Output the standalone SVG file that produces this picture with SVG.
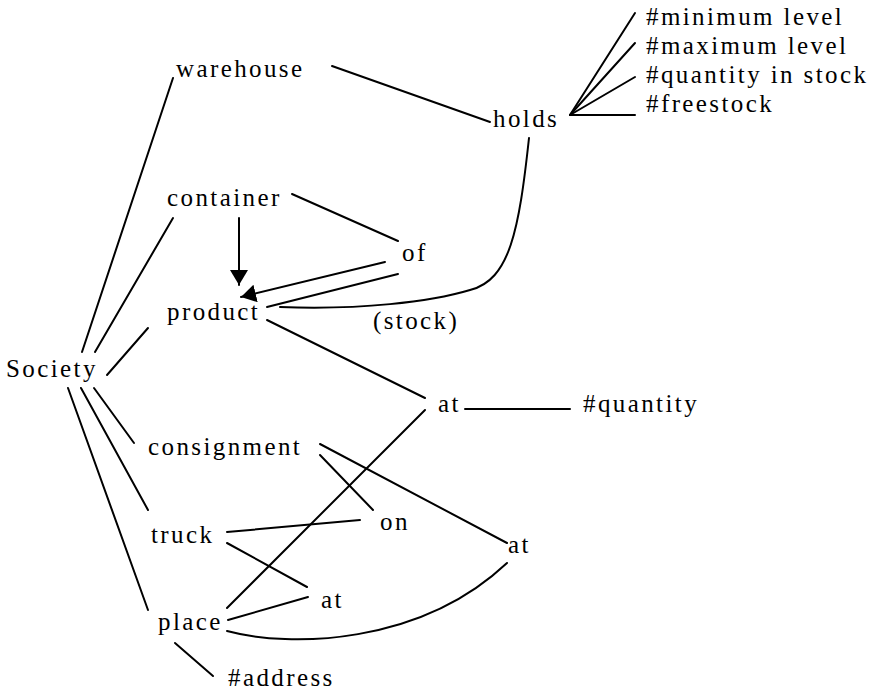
<svg xmlns="http://www.w3.org/2000/svg" width="874" height="692" viewBox="0 0 874 692">
<style>
  text { font-family: 'Liberation Serif', 'DejaVu Serif', 'Times New Roman', serif; font-size: 25px; letter-spacing: 2.4px; fill: #000; }
  .c line, .c path { stroke: #000; stroke-width: 2; fill: none; stroke-linecap: round; }
</style>
<defs>
  <marker id="arr" markerUnits="userSpaceOnUse" markerWidth="16" markerHeight="18" refX="15" refY="9" orient="auto">
    <path d="M0,0 L15,9 L0,18 z" fill="#000"/>
  </marker>
</defs>
<rect width="874" height="692" fill="#fff"/>
<g class="c" id="connectors">
  <line x1="82" y1="352" x2="173" y2="78"/>
  <line x1="95" y1="352" x2="173" y2="218"/>
  <line x1="107" y1="375" x2="148" y2="328"/>
  <line x1="94" y1="388" x2="134" y2="443"/>
  <line x1="81" y1="388" x2="148" y2="510"/>
  <line x1="68" y1="388" x2="148" y2="610"/>
  <line x1="332" y1="66" x2="490" y2="122"/>
  <line x1="570" y1="115" x2="635" y2="13"/>
  <line x1="570" y1="115" x2="635" y2="43"/>
  <line x1="570" y1="115" x2="635" y2="77"/>
  <line x1="570" y1="115" x2="635" y2="115"/>
  <line x1="292" y1="194" x2="398" y2="241"/>
  <line x1="239" y1="218" x2="239" y2="285" marker-end="url(#arr)"/>
  <line x1="385" y1="262" x2="241" y2="297" marker-end="url(#arr)"/>
  <line x1="398" y1="274" x2="267" y2="307"/>
  <path d="M529,138 C519,230 510,280 470,290 C430,302 360,310 280,307"/>
  <line x1="267" y1="320" x2="425" y2="398"/>
  <line x1="465" y1="409" x2="570" y2="409"/>
  <line x1="425" y1="410" x2="227" y2="608"/>
  <line x1="320" y1="455" x2="373" y2="510"/>
  <line x1="320" y1="444" x2="507" y2="543"/>
  <line x1="227" y1="532" x2="360" y2="520"/>
  <line x1="227" y1="543" x2="307" y2="587"/>
  <line x1="228" y1="620" x2="308" y2="597"/>
  <path d="M227,631 C290,648 420,645 507,563"/>
  <line x1="175" y1="643" x2="213" y2="676"/>
</g>
<g id="society"><text x="6" y="377">Society</text></g>
<g id="warehouse"><text x="176" y="77">warehouse</text></g>
<g id="holds"><text x="493" y="127">holds</text></g>
<g id="minimum-level"><text x="646" y="25">#minimum level</text></g>
<g id="maximum-level"><text x="646" y="54">#maximum level</text></g>
<g id="quantity-in-stock"><text x="646" y="83">#quantity in stock</text></g>
<g id="freestock"><text x="646" y="112">#freestock</text></g>
<g id="container"><text x="167" y="206">container</text></g>
<g id="of"><text x="402" y="261">of</text></g>
<g id="product"><text x="167" y="320">product</text></g>
<g id="stock"><text x="373" y="329">(stock)</text></g>
<g id="at1"><text x="438" y="412">at</text></g>
<g id="quantity"><text x="583" y="412">#quantity</text></g>
<g id="consignment"><text x="148" y="455">consignment</text></g>
<g id="on"><text x="380" y="530">on</text></g>
<g id="at2"><text x="508" y="553">at</text></g>
<g id="truck"><text x="151" y="543">truck</text></g>
<g id="at3"><text x="321" y="608">at</text></g>
<g id="place"><text x="158" y="630">place</text></g>
<g id="address"><text x="228" y="686">#address</text></g>
</svg>
